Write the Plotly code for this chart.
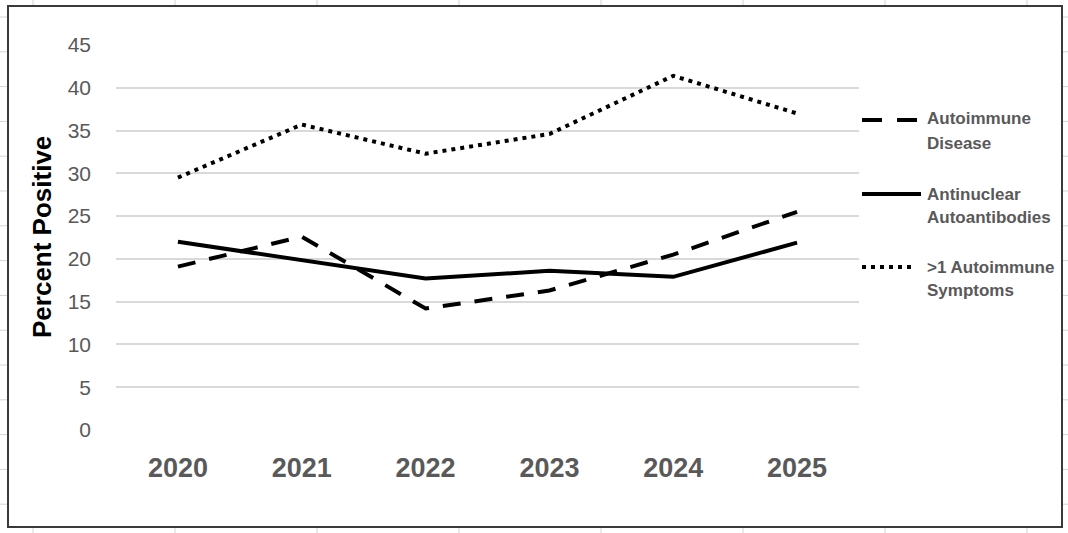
import plotly.graph_objects as go

# ---- data ----
years = ["2020", "2021", "2022", "2023", "2024", "2025"]
autoimmune_disease = [19.1, 22.6, 14.2, 16.3, 20.5, 25.5]
antinuclear_autoantibodies = [22.0, 19.8, 17.7, 18.6, 17.9, 21.9]
gt1_autoimmune_symptoms = [29.5, 35.7, 32.3, 34.6, 41.4, 37.0]
y_ticks = [0, 5, 10, 15, 20, 25, 30, 35, 40, 45]

W, H = 1068, 533
L, R, T, B = 116, 859, 45, 430  # plot area in pixels


def px(x):
    return (x - L) / (R - L)


def py(y):
    return (B - y) / (B - T)


GREY = "#595959"
fig = go.Figure()

fig.add_trace(go.Scatter(x=years, y=autoimmune_disease, mode="lines",
                         name="Autoimmune Disease",
                         line=dict(color="black", width=4, dash="18px,14px")))
fig.add_trace(go.Scatter(x=years, y=antinuclear_autoantibodies, mode="lines",
                         name="Antinuclear Autoantibodies",
                         line=dict(color="black", width=4)))
fig.add_trace(go.Scatter(x=years, y=gt1_autoimmune_symptoms, mode="lines",
                         name=">1 Autoimmune Symptoms",
                         line=dict(color="black", width=4, dash="4px,5px")))

shapes = []
# outer chart border
shapes.append(dict(type="rect", xref="paper", yref="paper",
                   x0=px(8), x1=px(1062), y0=py(527), y1=py(6),
                   line=dict(color="#3a3a3a", width=2), layer="below"))
# faint spreadsheet cell ticks outside border
for yy in [17 + 34.8 * i for i in range(15)]:
    shapes.append(dict(type="line", xref="paper", yref="paper",
                       x0=px(0), x1=px(7), y0=py(yy), y1=py(yy),
                       line=dict(color="#d4d4d4", width=1)))
    shapes.append(dict(type="line", xref="paper", yref="paper",
                       x0=px(1063), x1=px(1068), y0=py(yy), y1=py(yy),
                       line=dict(color="#d4d4d4", width=1)))
for xx in [33 + 142 * i for i in range(8)]:
    shapes.append(dict(type="line", xref="paper", yref="paper",
                       x0=px(xx), x1=px(xx), y0=py(0), y1=py(5),
                       line=dict(color="#d4d4d4", width=1)))
    shapes.append(dict(type="line", xref="paper", yref="paper",
                       x0=px(xx), x1=px(xx), y0=py(528), y1=py(533),
                       line=dict(color="#d4d4d4", width=1)))

# legend samples
shapes.append(dict(type="line", xref="paper", yref="paper",
                   x0=px(862), x1=px(917), y0=py(120), y1=py(120),
                   line=dict(color="black", width=4, dash="20px,15px")))
shapes.append(dict(type="line", xref="paper", yref="paper",
                   x0=px(862), x1=px(921), y0=py(194), y1=py(194),
                   line=dict(color="black", width=4)))
shapes.append(dict(type="line", xref="paper", yref="paper",
                   x0=px(862), x1=px(916), y0=py(267), y1=py(267),
                   line=dict(color="black", width=4, dash="4px,5px")))

LEG_FONT = dict(family="Liberation Sans, Arial, sans-serif",
                size=17, color=GREY, weight="bold")
legend_lines = [("Autoimmune", 119), ("Disease", 143),
                ("Antinuclear", 194), ("Autoantibodies", 217),
                (">1 Autoimmune", 267), ("Symptoms", 290)]
annotations = []
for txt, yy in legend_lines:
    annotations.append(dict(text=txt, xref="paper", yref="paper",
                            x=px(925), y=py(yy), xanchor="left",
                            yanchor="middle", showarrow=False,
                            font=LEG_FONT))
annotations.append(dict(text="Percent Positive", xref="paper", yref="paper",
                        x=px(42), y=py(237), textangle=-90, showarrow=False,
                        xanchor="center", yanchor="middle",
                        font=dict(family="Liberation Sans, Arial, sans-serif",
                                  size=26, color="black", weight="bold")))

fig.update_layout(
    width=W, height=H,
    margin=dict(l=L, r=W - R, t=T, b=H - B, pad=0),
    paper_bgcolor="white", plot_bgcolor="white",
    showlegend=False,
    shapes=shapes,
    annotations=annotations,
    xaxis=dict(type="category", range=[-0.5, 5.5], showgrid=False,
               showline=False, zeroline=False, ticks="",
               ticklabelstandoff=19,
               tickfont=dict(family="Liberation Sans, Arial, sans-serif",
                             size=27, color=GREY, weight="bold")),
    yaxis=dict(range=[0, 45], tickvals=y_ticks, showgrid=True,
               gridcolor="#d9d9d9", gridwidth=1.5, zeroline=False,
               showline=False, ticks="", ticklabelstandoff=24,
               tickfont=dict(family="Liberation Sans, Arial, sans-serif",
                             size=21, color=GREY)),
)

fig.write_html("out.html", config={"displayModeBar": False})

# remove the default page margin so the figure sits at the window's corner
with open("out.html", "r", encoding="utf-8") as f:
    html = f.read()
html = html.replace("<body>", '<body style="margin:0;padding:0;overflow:hidden">', 1)
with open("out.html", "w", encoding="utf-8") as f:
    f.write(html)
